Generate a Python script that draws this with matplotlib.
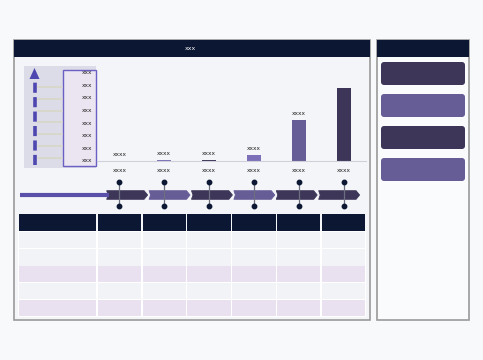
import numpy as np
import matplotlib.pyplot as plt
from matplotlib.patches import Rectangle, FancyBboxPatch, Polygon

# data
categories = ['xxxx', 'xxxx', 'xxxx', 'xxxx', 'xxxx', 'xxxx']
values = [0, 0.5, 0.5, 3, 20, 36]
value_labels = ['xxxx', 'xxxx', 'xxxx', 'xxxx', 'xxxx', '']
axis_labels = ['xxx'] * 8
title = 'xxx'
n_rows = 5

NAVY = '#0c1733'
DARK = '#3d3658'
MID = '#665c96'
LIGHT = '#7d70b8'
LAV = '#e9e1ef'
ROW = '#f2f3f6'

W, H = 483, 360
fig = plt.figure(figsize=(W / 100, H / 100), dpi=100)
fig.patch.set_facecolor('#f8f9fa')

# overlay axes in pixel coordinates
ov = fig.add_axes([0, 0, 1, 1])
ov.set_xlim(0, W)
ov.set_ylim(H, 0)
ov.axis('off')

# main panel
ov.add_patch(Rectangle((14, 40), 356, 279.5, facecolor='#f4f5f8', edgecolor='#9a9a9a', lw=1.2))
ov.add_patch(Rectangle((14, 40), 356, 17, facecolor=NAVY, edgecolor='none'))
ov.text(190, 49, title, color='white', fontsize=4.5, ha='center', va='center')

# right panel
ov.add_patch(Rectangle((376.5, 40), 92.5, 279.5, facecolor='#fafbfc', edgecolor='#9a9a9a', lw=1.2))
ov.add_patch(Rectangle((376.5, 40), 92.5, 17, facecolor=NAVY, edgecolor='none'))
box_cols = [DARK, MID, DARK, MID]
for i, c in enumerate(box_cols):
    y0 = 62 + i * 32
    ov.add_patch(FancyBboxPatch((381 + 3, y0 + 3), 84 - 6, 23 - 6,
                                boxstyle='round,pad=3', facecolor=c, edgecolor='none'))

# left axis panel
ov.add_patch(Rectangle((24, 66), 72, 102, facecolor='#dcdbe8', edgecolor='none'))
for gy in [87, 99, 111, 122, 134, 146, 158]:
    ov.plot([38, 62], [gy, gy], color='#d6d8c6', lw=1.2)
ov.add_patch(Rectangle((62.5, 70), 33.5, 95.5, facecolor='#ebe4f1', edgecolor='#6a5fc4', lw=1.0))
lab_y = np.linspace(72.5, 161, len(axis_labels))
for ly, t in zip(lab_y, axis_labels):
    ov.text(92, ly, t, fontsize=4.2, ha='right', va='center', color='#222222')
ov.plot([34.5, 34.5], [165, 78], color='#4f47b0', lw=2.6, ls=(0, (2.8, 1.2)), solid_capstyle='butt')
ov.add_patch(Polygon([[29.5, 79], [39.5, 79], [34.5, 68]], closed=True, facecolor='#4f47b0', edgecolor='none'))

# timeline
ty = 195
ov.plot([20, 109], [ty, ty], color='#5a50aa', lw=3.0, solid_capstyle='butt')
seg_x0, seg_w = 106.7, 42.4
chev_cols = [DARK, MID, DARK, MID, DARK, DARK]
for i, c in enumerate(chev_cols):
    x0 = seg_x0 + i * seg_w
    x1 = x0 + seg_w - 1.5
    ov.add_patch(Polygon([[x0, ty - 4.3], [x1 - 3.5, ty - 4.3], [x1, ty],
                          [x1 - 3.5, ty + 4.3], [x0, ty + 4.3], [x0 + 1.5, ty]],
                         closed=True, facecolor=c, edgecolor=c, lw=0.6, joinstyle='round'))
slot = (366 - 97) / len(categories)
centers = 97 + slot * (np.arange(len(categories)) + 0.5)
for cx in centers:
    ov.plot([cx, cx], [182, 206], color='#6b6f80', lw=0.9, zorder=5)
    ov.plot([cx, cx], [182, 206], 'o', color=NAVY, ms=3.2, zorder=6)

# table
col_edges = [18.3] + list(97 + slot * np.arange(len(categories) + 1))
row_cols = [ROW, ROW, LAV, ROW, LAV]
row_y = [214.3, 231.3, 248.3, 266, 282.8, 299.8, 316.5]
ov.add_patch(Rectangle((18.3, row_y[1]), col_edges[-1] - 18.3, row_y[-1] - row_y[1],
                       facecolor='white', edgecolor='none'))
for ci in range(len(col_edges) - 1):
    x0, x1 = col_edges[ci], col_edges[ci + 1]
    ov.add_patch(Rectangle((x0 + 0.7, row_y[0]), x1 - x0 - 1.4, row_y[1] - row_y[0],
                           facecolor=NAVY, edgecolor='none'))
    for ri in range(n_rows):
        ov.add_patch(Rectangle((x0 + 0.7, row_y[ri + 1] + 0.4), x1 - x0 - 1.4,
                               row_y[ri + 2] - row_y[ri + 1] - 0.8,
                               facecolor=row_cols[ri], edgecolor='none'))

# bar chart
top_val = 36 * 95 / 73
ax = fig.add_axes([97 / W, (H - 161) / H, (366 - 97) / W, 95 / H])
ax.set_facecolor('none')
bar_cols = [DARK, LIGHT, DARK, LIGHT, MID, DARK]
x = np.arange(len(categories))
ax.bar(x, values, width=0.31, color=bar_cols)
ax.set_xlim(-0.5, len(categories) - 0.5)
ax.set_ylim(0, top_val)
for i, (v, t) in enumerate(zip(values, value_labels)):
    if t:
        ax.annotate(t, (i, v), xytext=(0, 3), textcoords='offset points',
                    ha='center', va='bottom', fontsize=4.2, color='#222222')
ax.set_xticks(x)
ax.set_xticklabels(categories, fontsize=4.2, color='#222222')
ax.tick_params(axis='x', length=0, pad=5)
ax.set_yticks([])
for s in ['top', 'right', 'left']:
    ax.spines[s].set_visible(False)
ax.spines['bottom'].set_color('#cfd1da')
ax.spines['bottom'].set_linewidth(0.8)

fig.savefig('out.png', dpi=100, facecolor=fig.get_facecolor())
